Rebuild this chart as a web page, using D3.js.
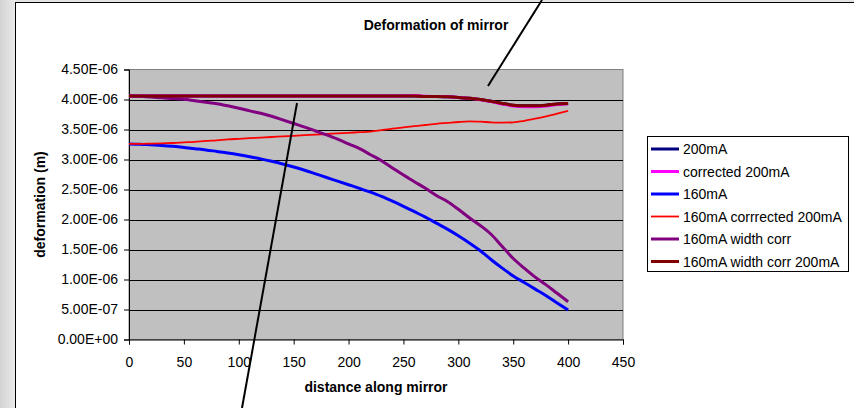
<!DOCTYPE html>
<html>
<head>
<meta charset="utf-8">
<script src="https://cdn.jsdelivr.net/npm/d3@7"></script>
<style>
  html, body { margin: 0; padding: 0; background: #fff; }
  svg { display: block; font-family: "Liberation Sans", Arial, sans-serif; }
</style>
</head>
<body>
<svg id="chart" width="854" height="408"></svg>
<script>
// Distance along the mirror (sample positions)
const distance = [0, 10, 20, 30, 40, 50, 60, 70, 80, 90, 100, 110, 120, 130, 140, 150, 160, 170, 180, 190, 200,
  210, 220, 230, 240, 250, 260, 270, 280, 290, 300, 310, 320, 330, 340, 350, 360, 370, 380, 390, 400];

// Deformation values, in micrometres (1e-6 m)
const s200mA = [4.06, 4.06, 4.06, 4.06, 4.06, 4.06, 4.06, 4.06, 4.06, 4.06, 4.06, 4.06, 4.06, 4.06, 4.06, 4.06, 4.06, 4.06, 4.06, 4.06, 4.06,
  4.06, 4.06, 4.06, 4.06, 4.06, 4.06, 4.05, 4.05, 4.045, 4.035, 4.02, 4.0, 3.97, 3.935, 3.905, 3.895, 3.895, 3.905, 3.925, 3.935];
const sCorrected200mA = [4.06, 4.06, 4.06, 4.06, 4.06, 4.06, 4.06, 4.06, 4.06, 4.06, 4.06, 4.06, 4.06, 4.06, 4.06, 4.06, 4.06, 4.06, 4.06, 4.06, 4.06,
  4.06, 4.06, 4.06, 4.06, 4.06, 4.065, 4.055, 4.05, 4.045, 4.035, 4.02, 3.995, 3.965, 3.925, 3.89, 3.88, 3.88, 3.89, 3.915, 3.93];
const s160mA = [3.26, 3.255, 3.245, 3.235, 3.22, 3.20, 3.18, 3.16, 3.135, 3.11, 3.08, 3.045, 3.01, 2.97, 2.925, 2.875, 2.82, 2.76, 2.70, 2.64, 2.58,
  2.52, 2.455, 2.385, 2.305, 2.22, 2.13, 2.04, 1.94, 1.84, 1.73, 1.61, 1.48, 1.33, 1.19, 1.06, 0.95, 0.84, 0.73, 0.61, 0.49];
const s160mACorr200mA = [3.26, 3.26, 3.265, 3.27, 3.275, 3.285, 3.295, 3.31, 3.32, 3.335, 3.345, 3.355, 3.365, 3.375, 3.385, 3.395, 3.405, 3.415, 3.425, 3.435, 3.445,
  3.455, 3.465, 3.49, 3.515, 3.535, 3.555, 3.575, 3.595, 3.61, 3.625, 3.635, 3.63, 3.62, 3.615, 3.62, 3.645, 3.68, 3.72, 3.765, 3.81];
const s160mAWidthCorr = [4.06, 4.055, 4.04, 4.03, 4.015, 4.005, 3.98, 3.955, 3.93, 3.895, 3.855, 3.81, 3.77, 3.72, 3.66, 3.60, 3.54, 3.475, 3.41, 3.34, 3.26,
  3.18, 3.08, 2.98, 2.86, 2.74, 2.63, 2.52, 2.40, 2.30, 2.17, 2.03, 1.90, 1.75, 1.55, 1.35, 1.19, 1.04, 0.91, 0.77, 0.63];
const s160mAWidthCorr200mA = [4.06, 4.06, 4.06, 4.06, 4.06, 4.06, 4.06, 4.06, 4.06, 4.06, 4.06, 4.06, 4.06, 4.06, 4.06, 4.06, 4.06, 4.06, 4.06, 4.06, 4.06,
  4.06, 4.06, 4.06, 4.06, 4.06, 4.06, 4.05, 4.05, 4.045, 4.035, 4.02, 4.0, 3.97, 3.935, 3.905, 3.895, 3.895, 3.905, 3.925, 3.935];

const seriesNames = ["200mA", "corrected 200mA", "160mA", "160mA corrrected 200mA", "160mA width corr", "160mA width corr 200mA"];
const seriesColors = ["#000080", "#ff00ff", "#0000ff", "#ff0000", "#800080", "#800000"];
const seriesWidths = [3, 3, 3, 1.8, 3, 3];
const seriesValues = [s200mA, sCorrected200mA, s160mA, s160mACorr200mA, s160mAWidthCorr, s160mAWidthCorr200mA];

const xTicks = [0, 50, 100, 150, 200, 250, 300, 350, 400, 450];
const yTicks = [0, 0.5, 1.0, 1.5, 2.0, 2.5, 3.0, 3.5, 4.0, 4.5];
const yTickLabels = ["0.00E+00", "5.00E-07", "1.00E-06", "1.50E-06", "2.00E-06", "2.50E-06", "3.00E-06", "3.50E-06", "4.00E-06", "4.50E-06"];

const svg = d3.select("#chart");

// Window backdrop and chart sheet
const grad = svg.append("defs").append("linearGradient").attr("id", "side").attr("x1", 0).attr("x2", 1);
grad.append("stop").attr("offset", 0).attr("stop-color", "#d2d2d2");
grad.append("stop").attr("offset", 1).attr("stop-color", "#ececec");
svg.append("rect").attr("x", 0).attr("y", 0).attr("width", 854).attr("height", 408).attr("fill", "#e4e4e4");
svg.append("rect").attr("x", 0).attr("y", 0).attr("width", 16).attr("height", 408).attr("fill", "url(#side)");
svg.append("rect").attr("x", 15.5).attr("y", 2.5).attr("width", 845).attr("height", 415)
  .attr("fill", "#fff").attr("stroke", "#000").attr("stroke-width", 1);

const x = d3.scaleLinear().domain([0, 450]).range([129, 623]);
const y = d3.scaleLinear().domain([0, 4.5]).range([339.5, 69.5]);

// Plot area
svg.append("rect").attr("x", x(0)).attr("y", y(4.5)).attr("width", x(450) - x(0)).attr("height", y(0) - y(4.5))
  .attr("fill", "#c0c0c0").attr("stroke", "#808080").attr("stroke-width", 1);

// Horizontal gridlines
svg.append("g").selectAll("line").data(yTicks.filter(v => v > 0 && v < 4.5)).join("line")
  .attr("x1", x(0)).attr("x2", x(450))
  .attr("y1", d => Math.round(y(d)) + 0.5).attr("y2", d => Math.round(y(d)) + 0.5)
  .attr("stroke", "#000").attr("stroke-width", 1);

// Axes
const yAxis = d3.axisLeft(y).tickValues(yTicks).tickFormat((d, i) => yTickLabels[i]).tickSize(5).tickPadding(6);
const gy = svg.append("g").attr("transform", `translate(${x(0)},0)`).call(yAxis);
const xAxis = d3.axisBottom(x).tickValues(xTicks).tickSize(5).tickPadding(13);
const gx = svg.append("g").attr("transform", `translate(0,${y(0)})`).call(xAxis);
[gx, gy].forEach(g => {
  g.select(".domain").attr("stroke", "#000");
  g.selectAll(".tick line").attr("stroke", "#000");
  g.selectAll("text").attr("font-size", 14).attr("fill", "#000").attr("font-family", "Liberation Sans, Arial, sans-serif");
});

// Series lines
const line = d3.line().x((d, i) => x(distance[i])).y(d => y(d)).curve(d3.curveMonotoneX);
svg.append("g").selectAll("path").data(seriesValues).join("path")
  .attr("d", d => line(d))
  .attr("fill", "none")
  .attr("stroke", (d, i) => seriesColors[i])
  .attr("stroke-width", (d, i) => seriesWidths[i])
  .attr("stroke-linejoin", "round")
  .attr("stroke-linecap", "butt");

// Titles
svg.append("text").attr("x", 436).attr("y", 30).attr("text-anchor", "middle")
  .attr("font-size", 14).attr("font-weight", "bold").text("Deformation of mirror");
svg.append("text").attr("x", (x(0) + x(450)) / 2).attr("y", 392).attr("text-anchor", "middle")
  .attr("font-size", 14).attr("font-weight", "bold").text("distance along mirror");
svg.append("text").attr("transform", `translate(45,${(y(0) + y(4.5)) / 2}) rotate(-90)`).attr("text-anchor", "middle")
  .attr("font-size", 14).attr("font-weight", "bold").text("deformation (m)");

// Legend
const legend = svg.append("g");
legend.append("rect").attr("x", 647.5).attr("y", 136.5).attr("width", 201).attr("height", 135)
  .attr("fill", "#fff").attr("stroke", "#000").attr("stroke-width", 1);
const item = legend.selectAll("g.item").data(seriesNames).join("g").attr("class", "item")
  .attr("transform", (d, i) => `translate(0,${149 + i * 22.5})`);
item.append("line").attr("x1", 651).attr("x2", 679).attr("y1", 0).attr("y2", 0)
  .attr("stroke", (d, i) => seriesColors[i]).attr("stroke-width", (d, i) => seriesWidths[i]);
item.append("text").attr("x", 683).attr("y", 5).attr("font-size", 14).text(d => d);

// Pointer lines drawn over the chart
svg.append("line").attr("x1", 542).attr("y1", 0).attr("x2", 488).attr("y2", 86)
  .attr("stroke", "#000").attr("stroke-width", 2);
svg.append("line").attr("x1", 297).attr("y1", 103).attr("x2", 242).attr("y2", 408)
  .attr("stroke", "#000").attr("stroke-width", 2);
</script>
</body>
</html>
